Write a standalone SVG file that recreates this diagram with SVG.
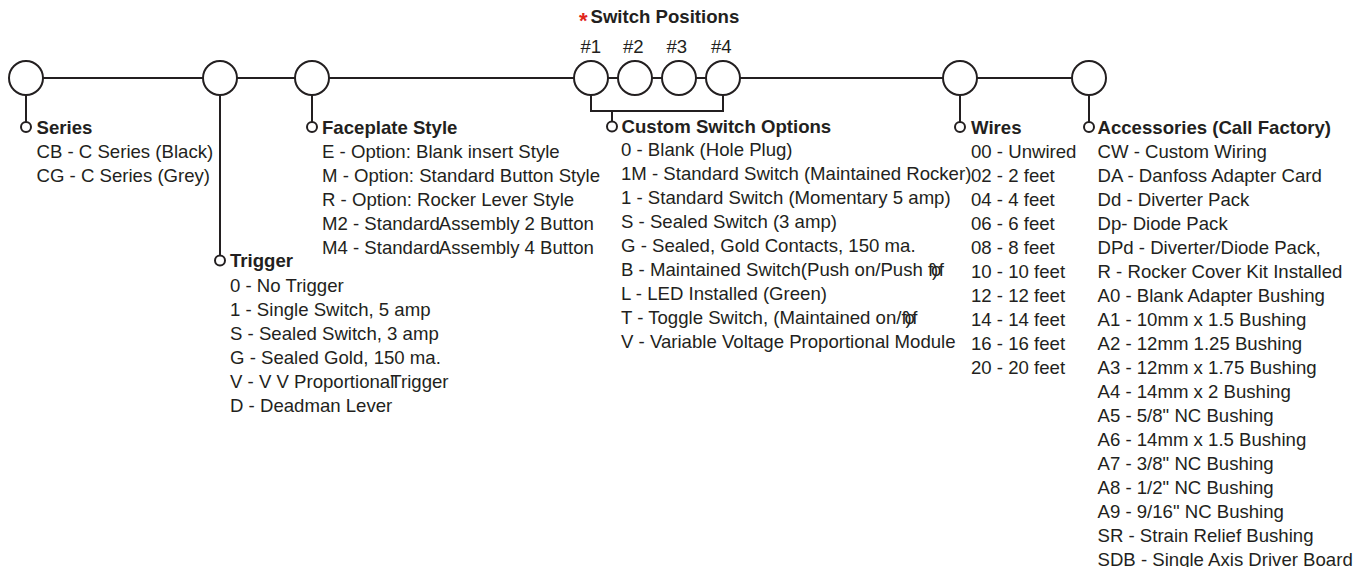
<svg xmlns="http://www.w3.org/2000/svg" width="1364" height="567" viewBox="0 0 1364 567">
<style>
text{font-family:"Liberation Sans",Arial,sans-serif;font-size:18.6px;fill:#231f20}
.h{font-weight:bold}
.s{font-weight:bold;font-size:22px;fill:#e1251b}
.c{fill:#fff;stroke:#231f20;stroke-width:2}
.d{fill:#fff;stroke:#231f20;stroke-width:2}
.l{fill:none;stroke:#231f20;stroke-width:2}
</style>
<g id="connectors">
<path class="l" d="M26 78H1089"/>
<path class="l" d="M26 95V127"/>
<path class="l" d="M220 95V260"/>
<path class="l" d="M312 95V127"/>
<path class="l" d="M591 95V111H723V95M612 111V126"/>
<path class="l" d="M960 95V127"/>
<path class="l" d="M1089 95V127"/>
</g>
<g id="series"><circle class="c" cx="26" cy="78" r="17"/><circle class="d" cx="26" cy="127" r="5"/>
<text class="h" x="36.500" y="134">Series</text>
<text x="36.500" y="158">CB - C Series (Black)</text><text x="36.500" y="182">CG - C Series (Grey)</text></g>
<g id="trigger"><circle class="c" cx="220" cy="78" r="17"/><circle class="d" cx="220" cy="260.500" r="5"/>
<text class="h" x="230" y="267">Trigger</text>
<text x="230" y="291.500">0 - No Trigger</text><text x="230" y="315.500">1 - Single Switch, 5 amp</text><text x="230" y="339.500">S - Sealed Switch, 3 amp</text><text x="230" y="363.500">G - Sealed Gold, 150 ma.</text><text x="230" y="387.500">V - V V Proportional<tspan dx="-4">Trigger</tspan></text><text x="230" y="411.500">D - Deadman Lever</text></g>
<g id="faceplate"><circle class="c" cx="312" cy="78" r="17"/><circle class="d" cx="312" cy="127" r="5"/>
<text class="h" x="322" y="134">Faceplate Style</text>
<text x="322" y="158">E - Option: Blank insert Style</text><text x="322" y="182">M - Option: Standard Button Style</text><text x="322" y="206">R - Option: Rocker Lever Style</text><text x="322" y="230">M2 - Standard<tspan dx="-1">Assembly 2 Button</tspan></text><text x="322" y="254">M4 - Standard<tspan dx="-1">Assembly 4 Button</tspan></text></g>
<g id="switches"><text x="579" y="28" class="s">*</text><text class="h" x="590.500" y="23">Switch Positions</text>
<text x="580.500" y="53">#1</text><text x="623" y="53">#2</text><text x="666.500" y="53">#3</text><text x="711" y="53">#4</text>
<circle class="c" cx="591" cy="78" r="17"/><circle class="c" cx="635" cy="78" r="17"/><circle class="c" cx="679" cy="78" r="17"/><circle class="c" cx="723" cy="78" r="17"/></g>
<g id="custom"><circle class="d" cx="612" cy="126.500" r="5"/>
<text class="h" x="621.500" y="133">Custom Switch Options</text>
<text x="621" y="156">0 - Blank (Hole Plug)</text><text x="621" y="180">1M - Standard Switch (Maintained Rocker)</text><text x="621" y="204">1 - Standard Switch (Momentary 5 amp)</text><text x="621" y="228">S - Sealed Switch (3 amp)</text><text x="621" y="252">G - Sealed, Gold Contacts, 150 ma.</text><text x="621" y="276">B - Maintained Switch(Push on/Push <tspan dx="3">o</tspan><tspan dx="-13.300">f</tspan><tspan dx="6">f</tspan><tspan dx="-12">)</tspan></text><text x="621" y="300">L - LED Installed (Green)</text><text x="621" y="324">T - Toggle Switch, (Maintained on/<tspan dx="3">o</tspan><tspan dx="-13.300">f</tspan><tspan dx="6">f</tspan><tspan dx="-12">)</tspan></text><text x="621" y="348">V - Variable Voltage Proportional Module</text></g>
<g id="wires"><circle class="c" cx="960" cy="78" r="17"/><circle class="d" cx="960" cy="127" r="5"/>
<text class="h" x="971" y="134">Wires</text>
<text x="971" y="158">00 - Unwired</text><text x="971" y="182">02 - 2 feet</text><text x="971" y="206">04 - 4 feet</text><text x="971" y="230">06 - 6 feet</text><text x="971" y="254">08 - 8 feet</text><text x="971" y="278">10 - 10 feet</text><text x="971" y="302">12 - 12 feet</text><text x="971" y="326">14 - 14 feet</text><text x="971" y="350">16 - 16 feet</text><text x="971" y="374">20 - 20 feet</text></g>
<g id="accessories"><circle class="c" cx="1089" cy="78" r="17"/><circle class="d" cx="1089" cy="127" r="5"/>
<text class="h" x="1097.500" y="134">Accessories (Call Factory)</text>
<text x="1097.500" y="158">CW - Custom Wiring</text><text x="1097.500" y="182">DA - Danfoss Adapter Card</text><text x="1097.500" y="206">Dd - Diverter Pack</text><text x="1097.500" y="230">Dp- Diode Pack</text><text x="1097.500" y="254">DPd - Diverter/Diode Pack,</text><text x="1097.500" y="278">R - Rocker Cover Kit Installed</text><text x="1097.500" y="302">A0 - Blank Adapter Bushing</text><text x="1097.500" y="326">A1 - 10mm x 1.5 Bushing</text><text x="1097.500" y="350">A2 - 12mm 1.25 Bushing</text><text x="1097.500" y="374">A3 - 12mm x 1.75 Bushing</text><text x="1097.500" y="398">A4 - 14mm x 2 Bushing</text><text x="1097.500" y="422">A5 - 5/8" NC Bushing</text><text x="1097.500" y="446">A6 - 14mm x 1.5 Bushing</text><text x="1097.500" y="470">A7 - 3/8" NC Bushing</text><text x="1097.500" y="494">A8 - 1/2" NC Bushing</text><text x="1097.500" y="518">A9 - 9/16" NC Bushing</text><text x="1097.500" y="542">SR - Strain Relief Bushing</text><text x="1097.500" y="565.500">SDB - Single Axis Driver Board</text></g>
</svg>
